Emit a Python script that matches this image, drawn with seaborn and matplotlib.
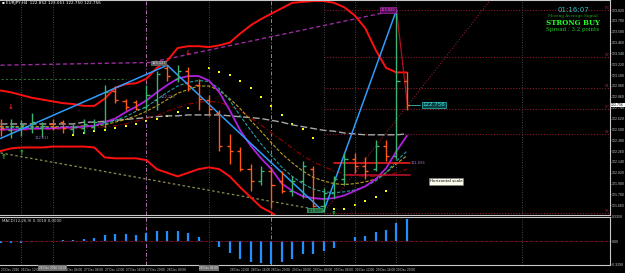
import numpy as np
import pandas as pd
import matplotlib
matplotlib.use("Agg")
import matplotlib.pyplot as plt
import seaborn as sns

# ---- bars (40 bars), prices ----
opens  = [122.54,122.49,122.51,122.52,122.51,122.56,122.58,122.50,122.51,122.53,
          122.58,122.93,122.81,122.80,122.75,122.82,123.18,123.06,123.15,122.99,
          122.82,122.68,122.32,122.26,122.06,121.93,122.04,121.93,121.82,121.93,
          122.06,121.65,121.80,121.95,122.17,122.10,122.06,122.32,122.21,123.04]
highs  = [122.62,122.62,122.60,122.68,122.58,122.62,122.60,122.56,122.62,122.62,
          122.99,122.98,122.84,122.83,122.99,123.15,123.21,123.21,123.19,123.06,
          122.88,122.71,122.45,122.30,122.12,122.10,122.08,122.04,121.99,122.15,
          122.10,121.85,121.99,122.24,122.24,122.19,122.38,122.38,123.82,123.13]
lows   = [122.43,122.41,122.43,122.46,122.42,122.49,122.46,122.45,122.46,122.49,
          122.51,122.79,122.71,122.71,122.71,122.71,123.04,123.02,122.93,122.71,
          122.65,122.26,122.12,122.04,121.82,121.88,121.63,121.80,121.76,121.74,
          121.64,121.59,121.74,121.88,122.02,121.95,122.04,122.15,122.17,122.71]
closes = [122.51,122.54,122.55,122.58,122.54,122.53,122.51,122.53,122.56,122.58,
          122.91,122.82,122.75,122.73,122.88,123.11,123.09,123.15,122.98,122.84,
          122.73,122.32,122.26,122.06,121.93,122.04,121.88,121.82,121.93,122.10,
          121.65,121.80,121.95,122.17,122.10,122.04,122.32,122.21,123.04,122.77]

# ---- indicators ----
band_up = [122.93,122.91,122.88,122.85,122.83,122.81,122.79,122.78,122.76,122.76,
           122.84,122.96,123.00,123.01,123.06,123.18,123.26,123.40,123.42,123.42,
           123.41,123.43,123.46,123.56,123.65,123.72,123.78,123.84,123.90,123.91,
           123.92,123.92,123.90,123.85,123.76,123.62,123.38,123.18,123.13,123.13]
band_lo = [122.26,122.29,122.30,122.30,122.30,122.31,122.31,122.31,122.31,122.30,
           122.19,122.18,122.18,122.18,122.16,122.06,122.02,121.98,122.02,122.06,
           122.08,122.06,121.98,121.86,121.75,121.64,121.58,121.49,121.42,121.38,
           121.33,121.31,121.31,121.33,121.35,121.38,121.40,121.42,121.46,121.49]
ma_fast = [122.50,122.50,122.50,122.51,122.51,122.51,122.52,122.52,122.53,122.54,
           122.58,122.62,122.69,122.75,122.82,122.91,122.99,123.06,123.09,123.09,
           123.04,122.91,122.71,122.49,122.32,122.18,122.06,121.90,121.82,121.76,
           121.74,121.73,121.74,121.77,121.82,121.87,121.95,122.07,122.26,122.43]
ma_teal = [122.52,122.52,122.52,122.52,122.52,122.52,122.53,122.53,122.53,122.54,
           122.56,122.60,122.64,122.70,122.75,122.83,122.91,122.98,123.02,123.04,
           123.03,122.95,122.82,122.65,122.49,122.34,122.21,122.08,121.98,121.90,
           121.84,121.81,121.80,121.81,121.83,121.87,121.93,122.02,122.15,122.26]
ma_olive = [122.53,122.53,122.53,122.53,122.53,122.53,122.53,122.53,122.54,122.54,
            122.55,122.58,122.61,122.65,122.70,122.76,122.83,122.90,122.94,122.98,
            122.98,122.93,122.84,122.73,122.60,122.48,122.35,122.23,122.13,122.04,
            121.97,121.93,121.90,121.89,121.90,121.92,121.95,122.02,122.12,122.21]
ma_slow = [122.49,122.49,122.49,122.50,122.50,122.50,122.50,122.51,122.51,122.52,
           122.53,122.54,122.56,122.59,122.62,122.65,122.70,122.74,122.78,122.80,
           122.81,122.80,122.76,122.71,122.63,122.55,122.46,122.38,122.29,122.21,
           122.14,122.09,122.04,122.01,121.99,121.98,121.98,121.99,122.02,122.06]
ma_long = [122.56,122.56,122.56,122.56,122.56,122.56,122.56,122.56,122.58,122.58,
           122.59,122.60,122.61,122.62,122.63,122.64,122.65,122.65,122.66,122.66,
           122.66,122.66,122.65,122.64,122.63,122.62,122.60,122.58,122.55,122.53,
           122.51,122.49,122.48,122.46,122.45,122.44,122.44,122.44,122.44,122.45]

sar_idx = [7,8,9,10,11,12,13,14,15,16,17,18,20,21,22,23,24,25,26,27,28,29,30,
           32,33,34,35,36,37]
sar_val = [122.44,122.46,122.48,122.49,122.51,122.54,122.56,122.59,122.62,122.65,
           122.69,122.74,123.18,123.14,123.10,123.04,122.96,122.86,122.76,122.66,
           122.56,122.50,122.41,121.62,121.62,121.66,121.71,121.75,121.82]

zz_idx = [0, 16, 31, 38]
zz_val = [122.40, 123.21, 121.59, 123.82]

trend_purple_idx = [0, 14.4, 38]
trend_purple_val = [123.21, 123.24, 123.82]
trend_low_idx = [0, 31]
trend_low_val = [122.24, 121.60]
channel_idx = [31, 47]
channel_val = [121.58, 123.93]

pivot_names = ["R3", "R2", "R1", "PP", "S1", "S2"]
pivot_vals = [123.82, 123.30, 122.96, 122.72, 122.45, 121.58]

macd = [-0.022,-0.022,-0.022,-0.009,0.0,0.0,0.022,0.014,0.032,0.041,
        0.090,0.104,0.104,0.090,0.117,0.135,0.144,0.144,0.113,0.059,
        0.0,-0.081,-0.158,-0.248,-0.293,-0.302,-0.315,-0.284,-0.248,-0.180,
        -0.180,-0.135,-0.090,0.009,0.054,0.077,0.126,0.149,0.257,0.302]

date_labels = ["23 Dec 2016", "26 Dec 12:00", "", "27 Dec 04:00",
               "27 Dec 08:00", "27 Dec 12:00", "27 Dec 16:00", "27 Dec 20:00",
               "28 Dec 00:00", "", "", "28 Dec 12:00",
               "28 Dec 16:00", "28 Dec 20:00", "29 Dec 00:00", "29 Dec 04:00",
               "29 Dec 08:00", "29 Dec 12:00", "29 Dec 16:00", "29 Dec 20:00"]
marked_bars = [5, 20]
marked_labels = ["26 Dec 2016 14:00", "28 Dec 06:00"]

price_ticks = [round(123.82 - 0.12 * k, 3) for k in range(19)]

W, H = 625, 273
PLOT_W = 610
sns.set_style("dark", {"axes.facecolor": "black", "figure.facecolor": "black",
                       "axes.edgecolor": "#c0c0c0", "grid.color": "black"})
plt.rcParams['font.family'] = ['DejaVu Sans']
AXFONT = "Liberation Sans"

fig = plt.figure(figsize=(W / 100, H / 100), dpi=100)
fig.patch.set_facecolor("black")
ax = fig.add_axes([0, 1 - 215 / H, PLOT_W / W, 215 / H])
ax2 = fig.add_axes([0, 1 - 265 / H, PLOT_W / W, 48 / H], sharex=ax)

idx = np.arange(len(opens))
xmax = PLOT_W / 10.42 - 0.05
for a in (ax, ax2):
    a.set_facecolor("black")
    a.set_xlim(-0.05, xmax)
    a.spines["left"].set_visible(False)
    for s in ("top", "bottom", "right"):
        a.spines[s].set_color("#c8c8c8")
        a.spines[s].set_linewidth(0.8)
    a.grid(False)
ax.set_ylim(123.931 - 214 / 90, 123.931)

# vertical separators
for xs in [2, 5, 20, 31, 34, 38, 50]:
    for a in (ax, ax2):
        a.axvline(xs, color="#606060", lw=0.6, ls=(0, (1, 2)))
for xs in [14, 26]:
    for a in (ax, ax2):
        a.axvline(xs, color="#b070b0", lw=0.7, ls=(0, (4, 2, 1, 2)))

# pivot levels
for name, v in zip(pivot_names, pivot_vals):
    ax.plot([31, xmax], [v, v], color="#8b1a2a", lw=0.8, ls=(0, (1, 1.5)))
    ax.text(xmax - 0.1, v, name, color="#a0203a", fontsize=2.6, va="bottom", ha="right",
            family=AXFONT)

# long trend lines
sns.lineplot(x=trend_purple_idx, y=trend_purple_val, ax=ax, color="#9a2aa0", lw=1.0,
             linestyle=(0, (3, 2)))
sns.lineplot(x=trend_low_idx, y=trend_low_val, ax=ax, color="#8f8f50", lw=0.9,
             linestyle=(0, (2, 2)))
sns.lineplot(x=channel_idx, y=channel_val, ax=ax, color="#8b1a2a", lw=0.8,
             linestyle=(0, (1, 1.5)))
ax.plot([0, 12], [123.06, 123.06], color="#2e6b2e", lw=0.8, ls=(0, (2, 2)))

# bands and moving averages
sns.lineplot(x=idx, y=band_up, ax=ax, color="#ff1010", lw=1.4)
sns.lineplot(x=idx, y=band_lo, ax=ax, color="#ff1010", lw=1.4)
sns.lineplot(x=idx, y=ma_long, ax=ax, color="#a8a8a8", lw=1.0, linestyle=(0, (5, 2)))
sns.lineplot(x=idx, y=ma_slow, ax=ax, color="#8b0000", lw=0.9, linestyle=(0, (4, 2, 1, 2)))
sns.lineplot(x=idx, y=ma_olive, ax=ax, color="#b8a020", lw=0.8, linestyle=(0, (3, 1.5)))
sns.lineplot(x=idx, y=ma_teal, ax=ax, color="#20a0a0", lw=0.8, linestyle=(0, (3, 1.5)))
sns.lineplot(x=idx, y=ma_fast, ax=ax, color="#b020e0", lw=1.3)

# support lines
ax.plot([32, 39.3], [122.13, 122.13], color="#ff2020", lw=1.1)
ax.plot([33, 39.3], [122.00, 122.00], color="#c01030", lw=1.1)

# zigzag
sns.lineplot(x=zz_idx, y=zz_val, ax=ax, color="#2f9cff", lw=1.1)
ax.plot([38, 39.05], [123.82, closes[-1]], color="#b01020", lw=0.9)

# OHLC bars
for i in idx:
    col = "#3cb371" if closes[i] >= opens[i] else "#ff5a1a"
    ax.vlines(i, lows[i], highs[i], color=col, lw=1.0)
    ax.hlines(opens[i], i - 0.3, i, color=col, lw=1.0)
    ax.hlines(closes[i], i, i + 0.3, color=col, lw=1.0)

# parabolic sar
sns.scatterplot(x=sar_idx, y=sar_val, ax=ax, color="#ffff00", s=2, marker="s",
                edgecolor=None, linewidth=0)

# arrows
for xi, yv in [(1, 122.75), (18, 123.34)]:
    ax.text(xi, yv, "\u2193", color="#ff2020", fontsize=5, ha="center", va="center",
            fontweight="bold")
for xi, yv in [(2, 122.24), (0.3, 122.19), (32, 121.56)]:
    ax.text(xi, yv, "\u2191", color="#30d030", fontsize=5, ha="center", va="center",
            fontweight="bold")

# small labels
ax.text(3.3, 122.40, "122.611", color="#a070c0", fontsize=2.6, va="center")
ax.text(15.4, 122.86, "122.233", color="#a070c0", fontsize=2.6, va="center")
ax.text(14.5, 123.23, "123.127", color="#e0e0e0", fontsize=2.6, va="center",
        bbox=dict(boxstyle="square,pad=0.15", fc="#606060", ec="none"))
ax.text(29.5, 121.60, "121.597", color="#101010", fontsize=2.6, va="center",
        bbox=dict(boxstyle="square,pad=0.15", fc="#2e8b57", ec="none"))
ax.text(36.5, 123.82, "123.820", color="#ff40ff", fontsize=2.6, va="center",
        bbox=dict(boxstyle="square,pad=0.15", fc="#501050", ec="#c030c0", lw=0.4))
ax.text(39.4, 122.13, "121.696", color="#b070c0", fontsize=2.6, va="center")
ax.text(40.5, closes[-1], "122.756", color="#40e0e0", fontsize=4, va="center",
        bbox=dict(boxstyle="square,pad=0.15", fc="#0a4040", ec="#30c0c0", lw=0.5))
ax.plot([39.3, 40.3], [closes[-1], closes[-1]], color="#30c0c0", lw=0.6)

# right price axis
ax.yaxis.tick_right()
ax.set_yticks(price_ticks)
ax.set_yticklabels([f"{p:.3f}" for p in price_ticks], family=AXFONT)
ax.tick_params(axis="y", colors="#c8c8c8", labelsize=2.5, length=0.6, width=0.5, pad=0.4)
ax.tick_params(axis="x", bottom=False, labelbottom=False)
ax.text(1.002, closes[-1], "122.756", transform=ax.get_yaxis_transform(), color="black",
        fontsize=2.5, va="center", ha="left", family=AXFONT,
        bbox=dict(boxstyle="square,pad=0.12", fc="white", ec="none"))

# macd histogram
ax2.vlines(idx, 0, macd, color="#1e90ff", lw=1.6)
ax2.axhline(0, color="#8b1a2a", lw=0.6, ls=(0, (3, 1, 1, 1)))
ax2.set_ylim(-0.33, 0.335)
ax2.yaxis.tick_right()
ax2.set_yticks([0.3350, 0.0, -0.33 + 0.012])
ax2.set_yticklabels(["0.3350", "0.00", "-0.3290"], family=AXFONT)
ax2.tick_params(axis="y", colors="#c8c8c8", labelsize=2.5, length=0.6, width=0.5, pad=0.4)
ax2.set_xticks(np.arange(0, 40, 2))
ax2.set_xticklabels(date_labels, ha="left", family=AXFONT)
ax2.tick_params(axis="x", colors="#c8c8c8", labelsize=2.3, length=1.5, width=0.5, pad=1)
for b, lab in zip(marked_bars, marked_labels):
    ax2.text(b, -0.345, lab, color="#e0e0e0", fontsize=2.3, ha="center", va="top",
             family=AXFONT, bbox=dict(boxstyle="square,pad=0.2", fc="#707070", ec="none"))

# texts
def ftext(x, y, s, **kw):
    fig.text(x / W, 1 - y / H, s, **kw)

ftext(2, 3, "\u25aa EURJPY,H4  122.852 123.061 122.750 122.756", color="white",
      fontsize=3.0, va="center")
ftext(2, 221, "MACD(12,26,9) 0.3018 0.0000", color="#d0d0d0", fontsize=2.8, va="center")
ftext(573, 10, "01:16:07", color="#30c0c0", fontsize=5, va="center", ha="center")
ftext(573, 16, "Moving Average Signal", color="#20a020", fontsize=3.0, va="center",
      ha="center", family="DejaVu Serif")
ftext(573, 23, "STRONG BUY", color="#20ff20", fontsize=5.0, va="center", ha="center",
      family="DejaVu Serif", fontweight="bold")
ftext(573, 29.5, "Spread : 3.2 points", color="#20d020", fontsize=4.0, va="center",
      ha="center", family="DejaVu Serif")
ftext(446, 181.5, "Horizontal scale", color="black", fontsize=3.0, va="center",
      ha="center", bbox=dict(boxstyle="square,pad=0.25", fc="#fffff0", ec="#808080", lw=0.4))

fig.savefig("out.png", dpi=100, facecolor="black")
